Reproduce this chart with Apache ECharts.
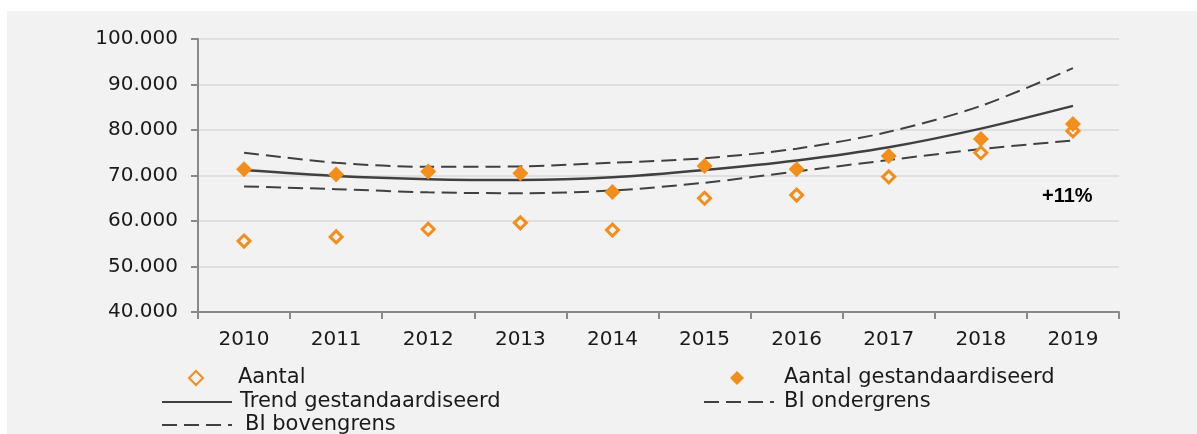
<!DOCTYPE html>
<html>
<head>
<meta charset="utf-8">
<script src="https://cdn.jsdelivr.net/npm/echarts@6/dist/echarts.min.js"></script>
<style>
  html, body { margin: 0; padding: 0; background: #ffffff; }
  #main { position: absolute; left: 7px; top: 11px; width: 1190px; height: 423px; }
</style>
</head>
<body>
<div id="main"></div>
<script>
var years = ['2010', '2011', '2012', '2013', '2014', '2015', '2016', '2017', '2018', '2019'];
var aantal = [55600, 56500, 58200, 59600, 58000, 65000, 65700, 69700, 75000, 79800];
var aantalGest = [71400, 70200, 70900, 70500, 66400, 72100, 71400, 74300, 78000, 81300];
var trend = [71200, 69900, 69200, 69000, 69600, 71200, 73300, 76200, 80300, 85300];
var biOnder = [67600, 67000, 66300, 66100, 66700, 68400, 70900, 73400, 75800, 77700];
var biBoven = [75000, 72800, 71900, 72000, 72800, 73800, 75900, 79600, 85300, 93600];
var yTicks = { min: 40000, max: 100000, step: 10000 };
var annotText = '+11%';

var orange = '#f28e1c';
var dark = '#404040';
var font = 'DejaVu Sans';

function fmt(v) {
  return String(v).replace(/\B(?=(\d{3})+(?!\d))/g, '.');
}

// one legend box per entry, laid out like the Excel legend
function legendBox(name, left, top, isMarker, padLeft) {
  var lg = {
    data: [name],
    left: left,
    top: top,
    itemGap: 0,
    textStyle: { fontFamily: font, fontSize: 21, color: '#1a1a1a', lineHeight: 22, padding: [0, 0, 0, padLeft] }
  };
  if (isMarker) {
    lg.icon = 'diamond';
    lg.itemWidth = 14;
    lg.itemHeight = 14;
  } else {
    lg.itemWidth = 70;
    lg.itemHeight = 13;
    lg.itemStyle = { opacity: 0 };
  }
  return lg;
}

var chart = echarts.init(document.getElementById('main'));
var option = {
  backgroundColor: '#f2f2f2',
  animation: false,
  textStyle: { fontFamily: font, color: '#1a1a1a' },
  grid: { left: 191, right: 78, top: 28, bottom: 122 },
  legend: [
    legendBox('Aantal', 176, 351, true, 30),
    legendBox('Aantal gestandaardiseerd', 718, 351, true, 35),
    legendBox('Trend gestandaardiseerd', 149, 375, false, 3),
    legendBox('BI ondergrens', 691, 375, false, 5),
    legendBox('BI bovengrens', 149, 398, false, 8)
  ],
  xAxis: {
    type: 'category',
    data: years,
    boundaryGap: true,
    axisLine: { lineStyle: { color: '#898989', width: 2 } },
    axisTick: { show: true, length: 7, lineStyle: { color: '#898989', width: 2 } },
    axisLabel: { margin: 18, fontSize: 20, color: '#1a1a1a', fontFamily: font },
    splitLine: { show: false }
  },
  yAxis: {
    type: 'value',
    min: yTicks.min,
    max: yTicks.max,
    interval: yTicks.step,
    axisLine: { show: true, lineStyle: { color: '#898989', width: 2 } },
    axisTick: { show: true, length: 7, lineStyle: { color: '#898989', width: 2 } },
    axisLabel: { margin: 20, fontSize: 20, color: '#1a1a1a', fontFamily: font, formatter: fmt },
    splitLine: { lineStyle: { color: '#d9d9d9', width: 1.5 } }
  },
  series: [
    {
      name: 'Aantal',
      type: 'scatter',
      data: aantal,
      symbol: 'diamond',
      symbolSize: 12,
      itemStyle: { color: '#f2f2f2', borderColor: orange, borderWidth: 3, opacity: 1 },
      z: 5
    },
    {
      name: 'Aantal gestandaardiseerd',
      type: 'scatter',
      data: aantalGest,
      symbol: 'diamond',
      symbolSize: 16,
      itemStyle: { color: orange, opacity: 1 },
      z: 6
    },
    {
      name: 'Trend gestandaardiseerd',
      type: 'line',
      data: trend,
      smooth: 0.3,
      symbol: 'none',
      lineStyle: { color: dark, width: 2.5 },
      itemStyle: { color: dark },
      z: 3
    },
    {
      name: 'BI ondergrens',
      type: 'line',
      data: biOnder,
      smooth: 0.3,
      symbol: 'none',
      lineStyle: { color: dark, width: 2, type: [15, 7] },
      itemStyle: { color: dark },
      z: 3
    },
    {
      name: 'BI bovengrens',
      type: 'line',
      data: biBoven,
      smooth: 0.3,
      symbol: 'none',
      lineStyle: { color: dark, width: 2, type: [15, 7] },
      itemStyle: { color: dark },
      z: 3
    }
  ],
  graphic: [
    {
      type: 'text',
      left: 1035,
      top: 175,
      style: { text: annotText, font: 'bold 20px "Liberation Sans"', fill: '#000000' }
    }
  ]
};
chart.setOption(option);
</script>
</body>
</html>
